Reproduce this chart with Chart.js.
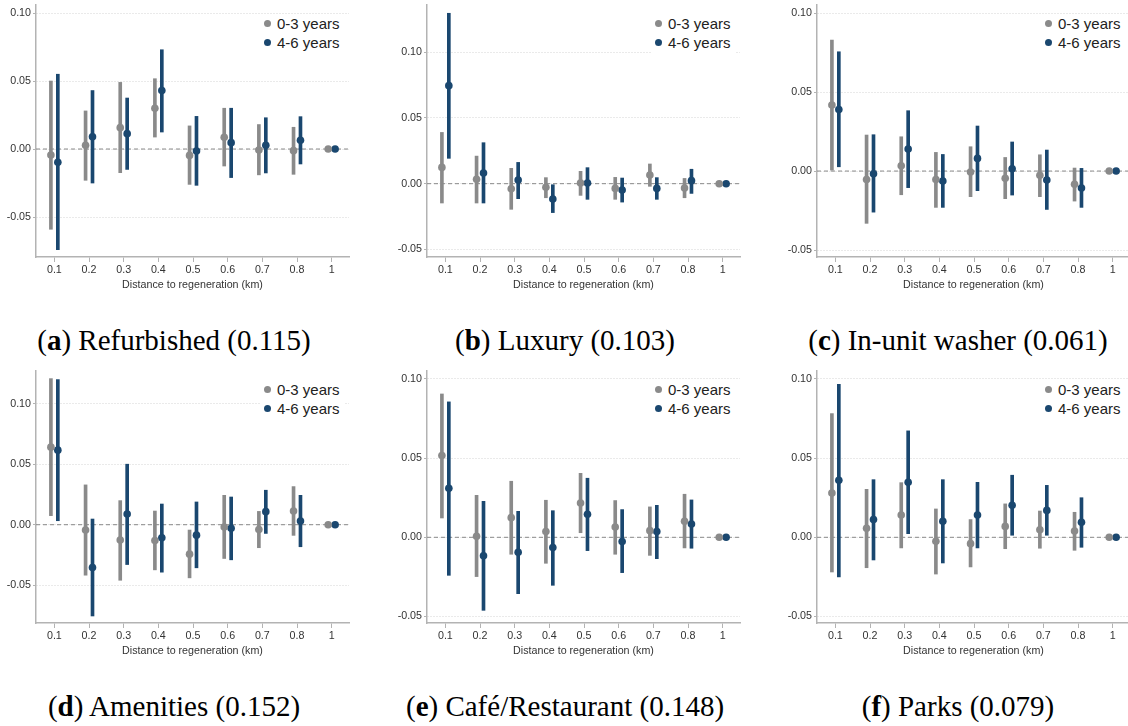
<!DOCTYPE html>
<html>
<head>
<meta charset="utf-8">
<script src="https://cdn.jsdelivr.net/npm/chart.js@4.4.1/dist/chart.umd.min.js"></script>
<style>
body { margin: 0; width: 1128px; height: 726px; overflow: hidden; background: #fff; position: relative; }
canvas { position: absolute; }
.legend { position: absolute; background: #fff; font: 15px "Liberation Sans", Arial, sans-serif; color: #222; padding: 0 4px 2px 3px; }
.legend div { height: 19px; line-height: 19px; display: flex; align-items: center; white-space: nowrap; }
.legend span { display: inline-block; width: 7px; height: 7px; border-radius: 50%; margin-right: 6px; }
.caption { position: absolute; width: 440px; text-align: center; font: 29px "Liberation Serif", "Times New Roman", serif; line-height: 34px; color: #000; white-space: nowrap; }
</style>
</head>
<body>
<script>
// categories and tick labels
const xLabels = ['0.1', '0.2', '0.3', '0.4', '0.5', '0.6', '0.7', '0.8', '1'];
const yTicks = [-0.05, 0, 0.05, 0.10];
const seriesNames = ['0-3 years', '4-6 years'];
const panelLetters = ['a', 'b', 'c', 'd', 'e', 'f'];
const panelNames = ['Refurbished', 'Luxury', 'In-unit washer', 'Amenities', 'Café/Restaurant', 'Parks'];
const panelScores = ['0.115', '0.103', '0.061', '0.152', '0.148', '0.079'];

// (a) Refurbished
const refurbEst03 = [-0.0044, 0.0027, 0.0157, 0.030, -0.0047, 0.0086, -0.0007, -0.0012, 0];
const refurbLo03 = [-0.059, -0.023, -0.0174, 0.0088, -0.026, -0.0125, -0.019, -0.0186, null];
const refurbHi03 = [0.050, 0.028, 0.049, 0.0517, 0.017, 0.030, 0.018, 0.016, null];
const refurbEst46 = [-0.0098, 0.009, 0.0113, 0.043, -0.0015, 0.0047, 0.0027, 0.0064, 0];
const refurbLo46 = [-0.074, -0.025, -0.015, 0.0125, -0.0267, -0.021, -0.0176, -0.011, null];
const refurbHi46 = [0.055, 0.043, 0.0375, 0.073, 0.024, 0.030, 0.023, 0.0238, null];

// (b) Luxury
const luxuryEst03 = [0.0124, 0.0033, -0.0038, -0.0028, 0.0005, -0.0036, 0.0066, -0.0033, 0];
const luxuryLo03 = [-0.0147, -0.0147, -0.0195, -0.0107, -0.0089, -0.0119, -0.002, -0.0107, null];
const luxuryHi03 = [0.039, 0.021, 0.0117, 0.0046, 0.0094, 0.0048, 0.015, 0.004, null];
const luxuryEst46 = [0.0746, 0.0081, 0.0028, -0.0117, 0.0005, -0.0048, -0.0036, 0.0023, 0];
const luxuryLo46 = [0.0193, -0.0147, -0.0114, -0.022, -0.0119, -0.014, -0.0119, -0.0074, null];
const luxuryHi46 = [0.1297, 0.0312, 0.0162, -0.0008, 0.0122, 0.0043, 0.0046, 0.011, null];

// (c) In-unit washer
const washerEst03 = [0.0418, -0.0053, 0.0034, -0.0053, -0.0006, -0.0046, -0.0027, -0.0084, 0];
const washerLo03 = [0.0006, -0.0331, -0.015, -0.023, -0.0162, -0.0175, -0.0162, -0.019, null];
const washerHi03 = [0.0829, 0.0228, 0.0217, 0.0118, 0.0154, 0.0086, 0.0103, 0.0019, null];
const washerEst46 = [0.039, -0.0017, 0.0139, -0.0063, 0.008, 0.0015, -0.0057, -0.0108, 0];
const washerLo46 = [0.0027, -0.026, -0.0105, -0.023, -0.0124, -0.0152, -0.0243, -0.023, null];
const washerHi46 = [0.0755, 0.023, 0.0382, 0.0105, 0.0285, 0.0184, 0.0133, 0.0017, null];

// (d) Amenities
const amenEst03 = [0.0641, -0.0044, -0.0127, -0.013, -0.0243, -0.0019, -0.0039, 0.0113, 0];
const amenLo03 = [0.0075, -0.0417, -0.0459, -0.0373, -0.0439, -0.0279, -0.019, -0.0088, null];
const amenHi03 = [0.1207, 0.0329, 0.0199, 0.0113, -0.0044, 0.0243, 0.011, 0.0315, null];
const amenEst46 = [0.0616, -0.0354, 0.0088, -0.0108, -0.0086, -0.003, 0.0108, 0.003, 0];
const amenLo46 = [0.0033, -0.0754, -0.0329, -0.0392, -0.0356, -0.029, -0.0072, -0.0182, null];
const amenHi46 = [0.1199, 0.0047, 0.05, 0.0171, 0.0188, 0.0229, 0.0285, 0.0243, null];

// (e) Café/Restaurant
const cafeEst03 = [0.0516, 0.0006, 0.0124, 0.0036, 0.0217, 0.0065, 0.0042, 0.0101, 0];
const cafeLo03 = [0.0122, -0.0248, -0.0107, -0.0164, 0.0029, -0.0107, -0.0114, -0.0067, null];
const cafeHi03 = [0.0905, 0.0265, 0.0354, 0.0234, 0.0404, 0.0232, 0.0192, 0.0272, null];
const cafeEst46 = [0.0309, -0.0116, -0.0095, -0.0065, 0.0145, -0.0027, 0.0036, 0.0084, 0];
const cafeLo46 = [-0.024, -0.0461, -0.0356, -0.0303, -0.0084, -0.0223, -0.0135, -0.0069, null];
const cafeHi46 = [0.0855, 0.0227, 0.0164, 0.0168, 0.0373, 0.0175, 0.0202, 0.0236, null];

// (f) Parks
const parksEst03 = [0.028, 0.0057, 0.0141, -0.0025, -0.004, 0.0069, 0.0048, 0.004, 0];
const parksLo03 = [-0.0219, -0.0192, -0.0067, -0.0232, -0.0187, -0.0072, -0.0069, -0.0082, null];
const parksHi03 = [0.0781, 0.0303, 0.0345, 0.0179, 0.0112, 0.0211, 0.0166, 0.0158, null];
const parksEst46 = [0.036, 0.0112, 0.0347, 0.0101, 0.0141, 0.0202, 0.017, 0.0095, 0];
const parksLo46 = [-0.025, -0.0143, 0.0023, -0.0162, -0.0067, 0.0013, 0.0013, -0.0063, null];
const parksHi46 = [0.0966, 0.0364, 0.0672, 0.0364, 0.0347, 0.0392, 0.0328, 0.025, null];

// y axis ranges per panel
const yMins = [-0.0794, -0.0558, -0.0544, -0.0812, -0.0541, -0.0541];
const yMaxs = [0.1059, 0.136, 0.1051, 0.127, 0.105, 0.105];

const panelData = [
  [refurbEst03, refurbLo03, refurbHi03, refurbEst46, refurbLo46, refurbHi46],
  [luxuryEst03, luxuryLo03, luxuryHi03, luxuryEst46, luxuryLo46, luxuryHi46],
  [washerEst03, washerLo03, washerHi03, washerEst46, washerLo46, washerHi46],
  [amenEst03, amenLo03, amenHi03, amenEst46, amenLo46, amenHi46],
  [cafeEst03, cafeLo03, cafeHi03, cafeEst46, cafeLo46, cafeHi46],
  [parksEst03, parksLo03, parksHi03, parksEst46, parksLo46, parksHi46]
];

const GRAY = '#8a8a8a';
const BLUE = '#1a476f';
const AXIS = '#b3b3b3';
const DODGE = 0.1;
const X_MIN = 0.47, X_MAX = 9.5;

const colLeft = [36, 427, 817];
const rowTop = [0, 366];
const plotW = 315;
const captionX = [174, 565, 958];
const captionY = [340, 706];

Chart.defaults.font.family = '"Liberation Sans", Arial, sans-serif';

function points(est, shift) {
  return est.map((v, i) => ({ x: i + 1 + shift, y: v }));
}
function intervals(lo, hi, shift) {
  return lo.map((v, i) => ({ x: i + 1 + shift, y: [v, hi[i]] })).filter(d => d.y[0] !== null);
}

panelData.forEach((d, p) => {
  const col = p % 3, row = Math.floor(p / 3);
  const canvas = document.createElement('canvas');
  canvas.width = 36 + plotW + 2;
  canvas.height = 291;
  canvas.style.left = (colLeft[col] - 36) + 'px';
  canvas.style.top = rowTop[row] + 'px';
  document.body.appendChild(canvas);

  new Chart(canvas, {
    type: 'bar',
    data: {
      datasets: [
        { type: 'line', data: [{ x: X_MIN, y: 0 }, { x: X_MAX, y: 0 }], borderColor: '#8a8a8a', borderWidth: 1, borderDash: [4, 3], pointRadius: 0, order: 10 },
        { type: 'bar', label: seriesNames[0], data: intervals(d[1], d[2], -DODGE), backgroundColor: GRAY, barThickness: 3, grouped: false, order: 5 },
        { type: 'bar', label: seriesNames[1], data: intervals(d[4], d[5], DODGE), backgroundColor: BLUE, barThickness: 3, grouped: false, order: 5 },
        { type: 'scatter', label: seriesNames[0], data: points(d[0], -DODGE), backgroundColor: GRAY, pointRadius: 3.8, borderWidth: 0, order: 1 },
        { type: 'scatter', label: seriesNames[1], data: points(d[3], DODGE), backgroundColor: BLUE, pointRadius: 3.8, borderWidth: 0, order: 1 }
      ]
    },
    options: {
      responsive: false,
      animation: false,
      layout: { padding: { top: 5, right: 2, left: 0, bottom: 0 } },
      plugins: { legend: { display: false }, tooltip: { enabled: false } },
      scales: {
        x: {
          type: 'linear', min: X_MIN, max: X_MAX, offset: false,
          afterBuildTicks: s => { s.ticks = xLabels.map((_, i) => ({ value: i + 1 })); },
          afterFit: s => { s.height = 34; s.paddingLeft = 0; s.paddingRight = 0; },
          ticks: { callback: (v, i) => xLabels[i], padding: 2, color: '#333', font: { size: 10.7 }, maxRotation: 0, autoSkip: false },
          grid: { drawOnChartArea: false, drawTicks: true, tickLength: 5, tickColor: AXIS, offset: false },
          border: { color: AXIS, width: 1.5 },
          title: { display: true, text: 'Distance to regeneration (km)', color: '#333', font: { size: 10.7 }, padding: 0 }
        },
        y: {
          min: yMins[p], max: yMaxs[p],
          afterBuildTicks: s => { s.ticks = yTicks.map(v => ({ value: v })); },
          afterFit: s => { s.width = 36; s.paddingTop = 0; s.paddingBottom = 0; },
          ticks: { callback: v => v.toFixed(2), padding: 2, color: '#333', font: { size: 10.7 }, autoSkip: false },
          grid: { color: '#d4d4d4', lineWidth: 1, tickLength: 3, tickColor: AXIS },
          border: { color: AXIS, width: 1.5, dash: [1, 2] }
        }
      }
    }
  });

  // legend box in the upper right of the plot
  const plotRight = colLeft[col] + plotW;
  const lg = document.createElement('div');
  lg.className = 'legend';
  lg.style.left = (plotRight - 90) + 'px';
  lg.style.top = (rowTop[row] + 14) + 'px';
  lg.innerHTML = seriesNames.map((n, i) =>
    `<div><span style="background:${i ? BLUE : GRAY}"></span>${n}</div>`).join('');
  document.body.appendChild(lg);

  const cap = document.createElement('div');
  cap.className = 'caption';
  cap.style.left = (captionX[col] - 220) + 'px';
  cap.style.top = (captionY[row] - 17) + 'px';
  cap.innerHTML = `(<b>${panelLetters[p]}</b>) ${panelNames[p]} (${panelScores[p]})`;
  document.body.appendChild(cap);
});
</script>
</body>
</html>
